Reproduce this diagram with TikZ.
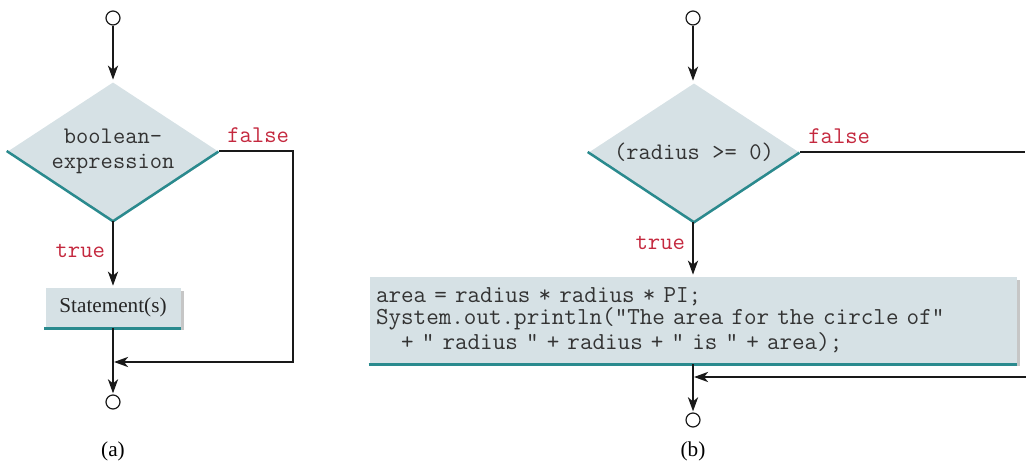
\documentclass[tikz,border=0pt]{standalone}
\usepackage{fontspec}
\setmainfont{Liberation Serif}
\usepackage{tikz}
\usetikzlibrary{arrows.meta,shapes.geometric,shadows}
\definecolor{boxfill}{HTML}{D6E1E5}
\definecolor{tealline}{HTML}{2A8A8E}
\definecolor{shadowgray}{HTML}{C6C6C6}
\definecolor{labelred}{HTML}{C4283E}
\definecolor{codegray}{HTML}{333333}
% typewriter at a given size, with spaces as wide as letters
\newcommand{\monotext}[2]{\ttfamily\fontsize{#1}{#2}\selectfont\fontdimen2\font=0.525em\fontdimen3\font=0pt\fontdimen4\font=0pt\relax}

\begin{document}
\begin{tikzpicture}[x=0.5pt,y=-0.5pt,->,>={Stealth[length=7pt,width=5pt,inset=2pt]},
                    shorten >=0.5pt,line width=1.3pt,draw=black!90]
  \tikzstyle{terminal}=[circle,draw,-,line width=0.6pt,fill=white,minimum size=7pt,inner sep=0pt]
  \tikzstyle{decision}=[diamond,aspect=1.52,fill=boxfill,inner sep=0pt,minimum width=105pt,minimum height=69pt,
                        align=center,text=codegray,font=\monotext{11.9}{12.5},
                        drop shadow={shadow xshift=0.3pt,shadow yshift=-1.2pt,fill=shadowgray,opacity=1}]
  \tikzstyle{process}=[rectangle,fill=boxfill,inner sep=3pt,
                       drop shadow={shadow xshift=1.5pt,shadow yshift=-1.5pt,fill=shadowgray,opacity=1}]
  \tikzstyle{branch}=[text=labelred,font=\monotext{12}{12}]
  \tikzstyle{caption}=[font=\fontsize{10.6}{12}\selectfont]
  \tikzstyle{rim}=[-,draw=tealline,line width=1.25pt]

  \useasboundingbox (0,0) rectangle (1026,464);

  % (a)
  \node[terminal] (topA)  at (113,18)    {};
  \node[decision] (DA)    at (113,151)   {boolean-\\expression};
  \node[process,minimum width=67.5pt,minimum height=19.5pt,
        font=\fontsize{10.6}{12}\selectfont,text=black!85] (BA) at (113,307.5) {Statement(s)};
  \node[terminal] (endA)  at (113,402)   {};
  \node[caption]  (capA)  at (113,451)   {(a)};
  \node[branch,anchor=south west] (falseA) at (DA.east) {false};
  \coordinate (cornerA) at (293,362);
  \coordinate (joinA)   at (113,362);

  \draw[rim] (DA.west) -- (DA.south) -- (DA.east);
  \draw[rim] (BA.south west) -- (BA.south east);

  \path (topA) edge (DA)
        (DA)   edge node[branch,left,pos=0.45] (trueA) {true} (BA)
        (BA)   edge (endA);
  \draw (DA.east) -| (cornerA) -- (joinA);

  % (b)
  \node[terminal] (topB)  at (693,18)    {};
  \node[decision] (DB)    at (694,152)   {(radius >= 0)};
  \node[process,minimum width=323.5pt,minimum height=43pt,text width=317.5pt,align=left,
        text=codegray,font=\monotext{12.2}{10}] (BB) at (693.5,320)
        {area = radius * radius * PI;\\
         System.out.println("The area for the circle of"\\
         \hphantom{xx}+ " radius " + radius + " is " + area);};
  \node[terminal] (endB)  at (693,420)   {};
  \node[caption]  (capB)  at (693,451)   {(b)};
  \node[branch,anchor=south west] (falseB) at (DB.east) {false};
  \coordinate (edgeT) at (1026,152);
  \coordinate (edgeB) at (1026,377);
  \coordinate (joinB) at (693,377);

  \draw[rim] (DB.west) -- (DB.south) -- (DB.east);
  \draw[rim] (BB.south west) -- (BB.south east);

  \path (topB) edge (topB |- DB.north)
        (DB.south -| topB) edge node[branch,left,pos=0.38] (trueB) {true} (topB |- BB.north)
        (topB |- BB.south) edge (endB);
  \draw[-] (DB.east) -- (edgeT);
  \draw (edgeB) -- (joinB);
\end{tikzpicture}
\end{document}
